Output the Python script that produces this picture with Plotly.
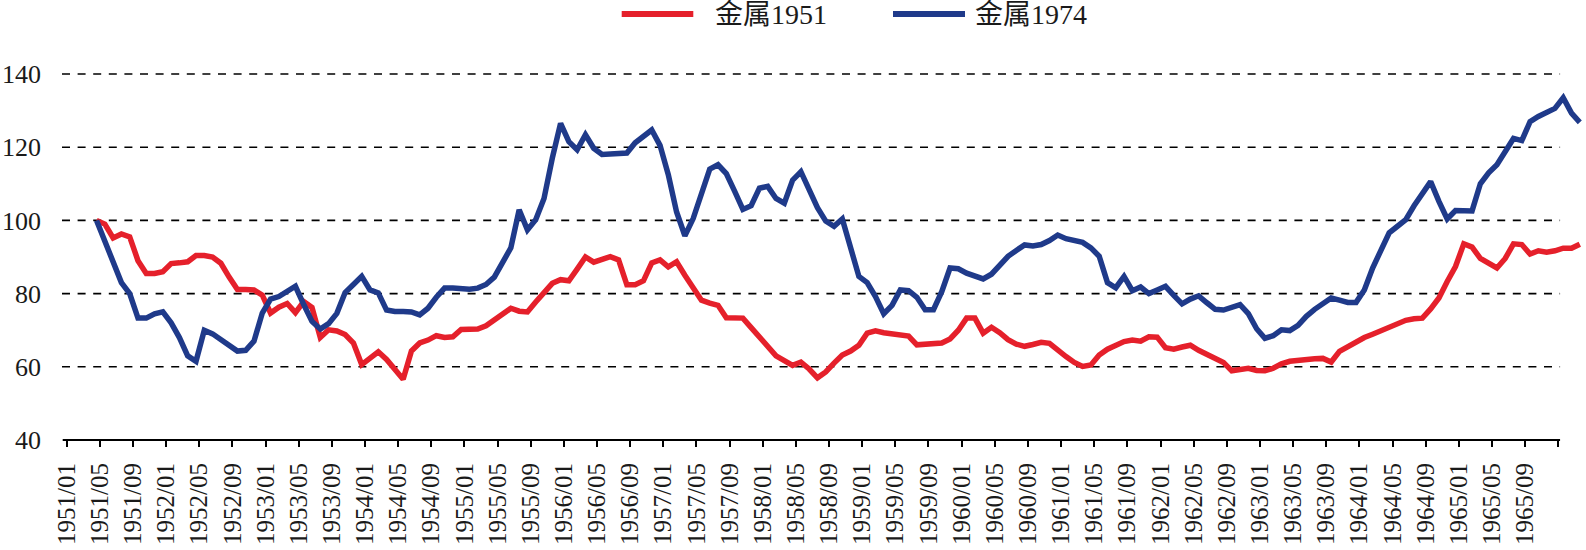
import plotly.graph_objects as go

# ---- data (monthly, 1951/04 .. 1966/03) ----
start_year, start_month = 1951, 4
months = []
y, m = start_year, start_month
for _ in range(180):
    months.append(f"{y}/{m:02d}")
    m += 1
    if m > 12:
        m = 1
        y += 1

metal_1951 = [
    100, 99, 95.2, 96.3, 95.5, 89, 85.5, 85.5, 86, 88.2, 88.4, 88.7, 90.4, 90.4, 90, 88.3, 84.5, 81.1, 81.1, 81,
    79.6, 74.7, 76.3, 77.3, 74.8, 77.8, 76.2, 68, 70.1, 69.8, 68.8, 66.5, 60.6, 62.4, 64.1, 62, 59, 56.6, 64.3, 66.5,
    67.3, 68.5, 68, 68.2, 70.2, 70.4, 70.3, 71.2, 72.8, 74.8, 76, 75.2, 75, 77.7, 80.5, 82.8, 83.8, 83.5, 86.7, 90,
    88.6, 89.5, 90.1, 89.2, 82.4, 82.4, 83.5, 88.4, 89.2, 87.3, 88.7, 85, 81.7, 78.2, 77.4, 76.8, 73.4, 73.3, 73.3, 70.7,
    68.2, 65.2, 63, 61.7, 60.4, 61.3, 59.4, 57, 58.6, 61, 63.2, 64.3, 65.9, 69.2, 69.8, 69.3, 69, 68.6, 68.4, 66,
    66.2, 66.5, 66.5, 67.6, 70, 73.3, 73.3, 69.2, 70.8, 69.3, 67.4, 66.2, 65.6, 66.1, 66.7, 66.4, 64.4, 62.8, 61.2, 60.1,
    60.5, 63.2, 64.8, 65.8, 66.9, 67.3, 67, 68.2, 68.1, 65.2, 64.8, 65.4, 65.9, 64.5, 63.5, 62.3, 61.2, 58.9, 59.3, 59.6,
    59, 58.9, 59.6, 60.8, 61.5, 61.8, 62, 62.2, 62.3, 61.3, 64.2, 65.5, 66.9, 68, 68.9, 69.8, 70.5, 71.5, 72.7, 73.1,
    73.3, 75.8, 78.8, 83.3, 87.4, 93.6, 92.7, 89.6, 88.1, 87, 89.6, 93.6, 93.4, 90.8, 91.7, 91.3, 91.7, 92.4, 92.4, 93.5,
]

metal_1974 = [
    100, 94.5, 88.5, 83, 80, 73.3, 73.3, 74.5, 75, 72, 68, 63, 61.5, 70, 69, 67.5, 66, 64.3, 64.5, 67,
    74.7, 78.5, 79.2, 80.5, 82, 77, 72.4, 70.3, 71.8, 74.6, 80.3, 82.5, 84.7, 81, 80.2, 75.5, 75.1, 75.1, 75, 74.2,
    76, 79, 81.5, 81.5, 81.3, 81.2, 81.5, 82.5, 84.5, 88.4, 92.5, 102.9, 97.4, 100.2, 106, 117, 126.5, 121.5, 119.3, 123.4,
    119.7, 118, 118.2, 118.4, 118.4, 121.2, 123, 124.7, 120.5, 112.5, 102.3, 95.8, 100.5, 107.5, 114, 115.2, 112.8, 108, 103, 104,
    108.8, 109.3, 106, 104.7, 111, 113.3, 108.5, 103.5, 99.8, 98.4, 100.4, 92.5, 84.7, 83, 79.2, 74.5, 76.8, 81, 80.8, 79,
    75.6, 75.6, 80.5, 87, 86.8, 85.6, 84.6, 84, 85.3, 87.5, 90.2, 91.8, 93.3, 93, 93.4, 94.5, 96, 95, 94.5, 94,
    92.5, 90.2, 83, 81.6, 84.7, 80.8, 81.8, 80, 81, 82, 79.5, 77.2, 78.5, 79.4, 77.5, 75.7, 75.5, 76.4, 77, 74.5,
    70.4, 67.8, 68.5, 70.1, 69.9, 71.3, 73.8, 75.7, 77.2, 78.8, 78.2, 77.6, 77.6, 81, 87, 92, 96.6, 98.4, 100.2, 104,
    107.5, 110.6, 105.2, 100.4, 102.7, 102.5, 102.6, 110, 113, 115.2, 119, 122.4, 121.8, 127, 128.4, 129.6, 130.6, 133.5, 129.3, 126.8,
]

tick_labels = []
for yy in range(1951, 1966):
    for mm in (1, 5, 9):
        tick_labels.append(f"{yy}/{mm:02d}")
tick_labels.append("1966/01")

y_ticks = [40, 60, 80, 100, 120, 140]
grid_values = [60, 80, 100, 120, 140]

series_names = ["金属1951", "金属1974"]
colors = ["#E5202B", "#1F3A8A"]

# ---- helpers ----
def month_index(label):
    yy, mm = label.split("/")
    return (int(yy) - 1951) * 12 + int(mm) - 1

x_vals = [month_index(s) for s in months]
TICK_SHIFT = -0.6  # ticks sit at category boundaries
tick_pos = [month_index(s) + TICK_SHIFT for s in tick_labels]
tick_text = tick_labels[:-1] + [""]

X_RANGE = [-1.17, 182.75]
Y_RANGE = [40, 140]

fig = go.Figure()
for name, vals, col in zip(series_names, [metal_1951, metal_1974], colors):
    fig.add_trace(go.Scatter(
        x=x_vals, y=vals, mode="lines", name=name,
        line=dict(color=col, width=5.5),
        hoverinfo="skip", showlegend=False,
    ))

W, H = 1586, 550
ML, MR, MT, MB = 62, 0, 74, 110
plot_w = W - ML - MR
plot_h = H - MT - MB

def px_to_paper_x(px):
    return (px - ML) / plot_w

def px_to_paper_y(py):
    return (H - MB - py) / plot_h

def xval_to_paper(v):
    return (v - X_RANGE[0]) / (X_RANGE[1] - X_RANGE[0])

def yval_to_paper(v):
    return (v - Y_RANGE[0]) / (Y_RANGE[1] - Y_RANGE[0])

axis_end = xval_to_paper(tick_pos[-1]) + 0.0012

shapes = []
for g in grid_values:
    yp = yval_to_paper(g)
    shapes.append(dict(type="line", xref="paper", yref="paper",
                       x0=0, x1=axis_end, y0=yp, y1=yp,
                       line=dict(color="black", width=1.6, dash="8px,7.6px"),
                       layer="below"))
# x axis line
shapes.append(dict(type="line", xref="paper", yref="paper",
                   x0=px_to_paper_x(62.7), x1=axis_end, y0=0, y1=0,
                   line=dict(color="black", width=2), layer="above"))

# manual legend
leg_y = px_to_paper_y(14)
legend_items = [
    (series_names[0], colors[0], 621.7, 693.3, 713),
    (series_names[1], colors[1], 893, 965, 973),
]
annotations = []
for name, col, a, b, tx in legend_items:
    shapes.append(dict(type="line", xref="paper", yref="paper",
                       x0=px_to_paper_x(a), x1=px_to_paper_x(b), y0=leg_y, y1=leg_y,
                       line=dict(color=col, width=6)))
    annotations.append(dict(xref="paper", yref="paper", x=px_to_paper_x(tx), y=leg_y,
                            xanchor="left", yanchor="middle", showarrow=False,
                            text=name,
                            font=dict(family="Liberation Serif, Noto Sans CJK SC", size=28, color="#1a1a1a")))

fig.update_layout(
    width=W, height=H,
    margin=dict(l=ML, r=MR, t=MT, b=MB, pad=0, autoexpand=False),
    paper_bgcolor="white", plot_bgcolor="white",
    showlegend=False,
    shapes=shapes,
    annotations=annotations,
    xaxis=dict(
        range=X_RANGE, tickmode="array", tickvals=tick_pos, ticktext=tick_text,
        tickangle=-90, ticks="outside", ticklen=6, tickwidth=2, tickcolor="black",
        showgrid=False, zeroline=False, showline=False, automargin=False,
        ticklabelstandoff=6,
        tickfont=dict(family="Liberation Serif", size=25, color="#1a1a1a"),
    ),
    yaxis=dict(
        range=Y_RANGE, tickmode="array", tickvals=y_ticks,
        ticks="", showgrid=False, zeroline=False, showline=False, automargin=False,
        ticklabelstandoff=20,
        tickfont=dict(family="Liberation Serif", size=26, color="#1a1a1a"),
    ),
)

fig.write_html("out.html")
